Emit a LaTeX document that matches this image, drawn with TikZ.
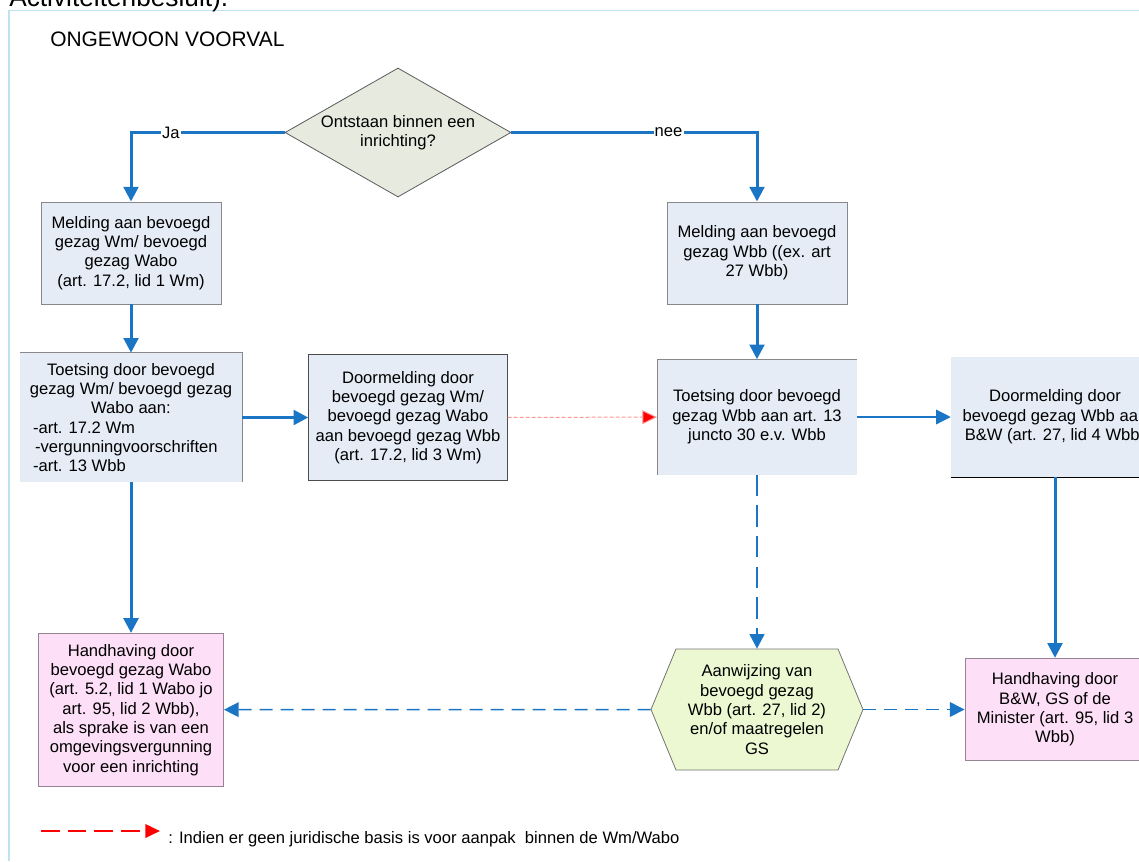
\documentclass[tikz,border=0pt]{standalone}
\usepackage{fontspec}
\setmainfont{Liberation Sans}
\usetikzlibrary{arrows.meta,shapes.geometric}
\definecolor{flowblue}{RGB}{27,117,197}
\definecolor{boxfill}{RGB}{229,236,246}
\definecolor{boxline}{RGB}{135,135,140}
\definecolor{pinkfill}{RGB}{253,223,247}
\definecolor{pinkline}{RGB}{150,132,148}
\definecolor{askfill}{RGB}{231,234,222}
\definecolor{hexfill}{RGB}{236,248,210}
\definecolor{framecol}{RGB}{190,226,240}
\definecolor{palered}{RGB}{255,150,150}
\begin{document}
\begin{tikzpicture}[x=0.75pt,y=-0.75pt,
    txt/.style={font=\fontsize{12.45}{14.5}\selectfont, align=center, inner sep=0pt},
    box/.style={txt, fill=boxfill, draw=boxline, line width=0.7pt},
    openbox/.style={txt, fill=boxfill},
    pinkbox/.style={txt, fill=pinkfill, draw=pinkline, line width=0.7pt},
    lbl/.style={txt, fill=white, inner sep=0.8pt},
    tip/.style={-{Triangle[length=11pt,width=11pt]}},
    flow/.style={tip, draw=flowblue, line width=2.25pt},
    thinflow/.style={tip, draw=flowblue, line width=0.9pt},
    dashflow/.style={tip, draw=flowblue, line width=1.9pt, dash pattern=on 16pt off 7pt},
    dashthin/.style={tip, draw=flowblue, line width=1.1pt, dash pattern=on 9.75pt off 6pt},
    redflow/.style={-{Triangle[length=11pt,width=10.5pt,fill=red]}, draw=palered, line width=0.75pt, dash pattern=on 3pt off 1.5pt},
    legendred/.style={-{Triangle[length=11pt,width=10pt]}, draw=red, line width=2pt, dash pattern=on 14pt off 6pt}]
  \useasboundingbox (0,0) rectangle (1139,861);
  \clip (0,0) rectangle (1139,861);
  \draw[framecol, line width=0.8pt] (9,861) -- (9,10.5) -- (1139,10.5);
  \node[anchor=base west, inner sep=0pt, font=\fontsize{19.7}{22}\selectfont] (cut) at (9,6) {Activiteitenbesluit).};
  \node[anchor=base west, inner sep=0pt, font=\fontsize{15.7}{18}\selectfont] (title) at (50,46) {ONGEWOON VOORVAL};
  \node[diamond, aspect=1.75, txt, fill=askfill, draw=black!65, line width=0.6pt, minimum width=169.5pt, minimum height=96.75pt] (q) at (398,132.5)
    {Ontstaan binnen een\\inrichting?};
  \node[box, minimum width=135pt, minimum height=76.5pt] (mwm) at (131,253)
    {Melding aan bevoegd\\gezag Wm/ bevoegd\\gezag Wabo\\(art. 17.2, lid 1 Wm)};
  \node[openbox, minimum width=166.5pt, minimum height=96.75pt] (twm) at (131,417.5)
    {Toetsing door bevoegd\\gezag Wm/ bevoegd gezag\\Wabo aan:\\
     \makebox[147pt][l]{-art. 17.2 Wm}\\
     \makebox[147pt][l]{\hspace{1.5pt}-vergunningvoorschriften}\\
     \makebox[147pt][l]{-art. 13 Wbb}};
  \node[box, draw=black!70, minimum width=148.9pt, minimum height=94.5pt] (dwm) at (408,417.5)
    {Doormelding door\\bevoegd gezag Wm/\\bevoegd gezag Wabo\\aan bevoegd gezag Wbb\\(art. 17.2, lid 3 Wm)};
  \node[box, minimum width=135pt, minimum height=76.5pt] (mwbb) at (757,253)
    {Melding aan bevoegd\\gezag Wbb ((ex. art\\27 Wbb)};
  \node[openbox, minimum width=149.6pt, minimum height=86.25pt] (twbb) at (757,417)
    {Toetsing door bevoegd\\gezag Wbb aan art. 13\\juncto 30 e.v. Wbb};
  \node[openbox, minimum width=156pt, minimum height=90pt] (dwbb) at (1055,417)
    {Doormelding door\\bevoegd gezag Wbb aan\\B\&W (art. 27, lid 4 Wbb)};
  \filldraw[fill=hexfill, draw=black!55, line width=0.6pt]
    (651,709.5) -- (676,649) -- (838,649) -- (863,709.5) -- (838,770) -- (676,770) -- cycle;
  \node[txt, minimum width=159pt, minimum height=90.75pt] (hex) at (757,709.5)
    {Aanwijzing van\\bevoegd gezag\\Wbb (art. 27, lid 2)\\en/of maatregelen\\GS};
  \node[pinkbox, minimum width=138.75pt, minimum height=114.5pt] (hwabo) at (131,709.7)
    {Handhaving door\\bevoegd gezag Wabo\\(art. 5.2, lid 1 Wabo jo\\art. 95, lid 2 Wbb),\\als sprake is van een\\omgevingsvergunning\\voor een inrichting};
  \node[pinkbox, minimum width=135pt, minimum height=76.8pt] (hbw) at (1055,709.5)
    {Handhaving door\\B\&W, GS of de\\Minister (art. 95, lid 3\\Wbb)};
  \draw[boxline, line width=0.7pt] (twm.north west) -- (twm.north east) -- (twm.south east);
  \draw[boxline, line width=0.7pt] (twbb.south west) -- (twbb.north west) -- (twbb.north east);
  \draw[black, line width=0.9pt] (dwbb.south west) -- (dwbb.south east);
  \begin{scope}[flow]
    \draw (q.west) -| node[lbl, pos=0.37] {Ja} (mwm.north);
    \draw (q.east) -| node[lbl, pos=0.32] {nee} (mwbb.north);
    \draw (mwm) to (twm);
    \draw (twm) to (dwm);
    \draw (twm) to (hwabo);
    \draw (mwbb) to (twbb);
    \draw (dwbb) to (hbw);
  \end{scope}
  \draw[thinflow] (twbb) to (dwbb);
  \draw[redflow] (dwm) to (twbb);
  \draw[dashflow] (twbb) to (hex);
  \draw[dashthin] (hex) to (hwabo);
  \draw[dashthin] (hex) to (hbw);
  \coordinate (la) at (41,831);
  \coordinate (lb) at (160,831);
  \draw[legendred] (la) -- (lb);
  \node[txt, anchor=base west] (legend) at (168,843)
    {: Indien er geen juridische basis is voor aanpak\ \ binnen de Wm/Wabo};
\end{tikzpicture}
\end{document}
